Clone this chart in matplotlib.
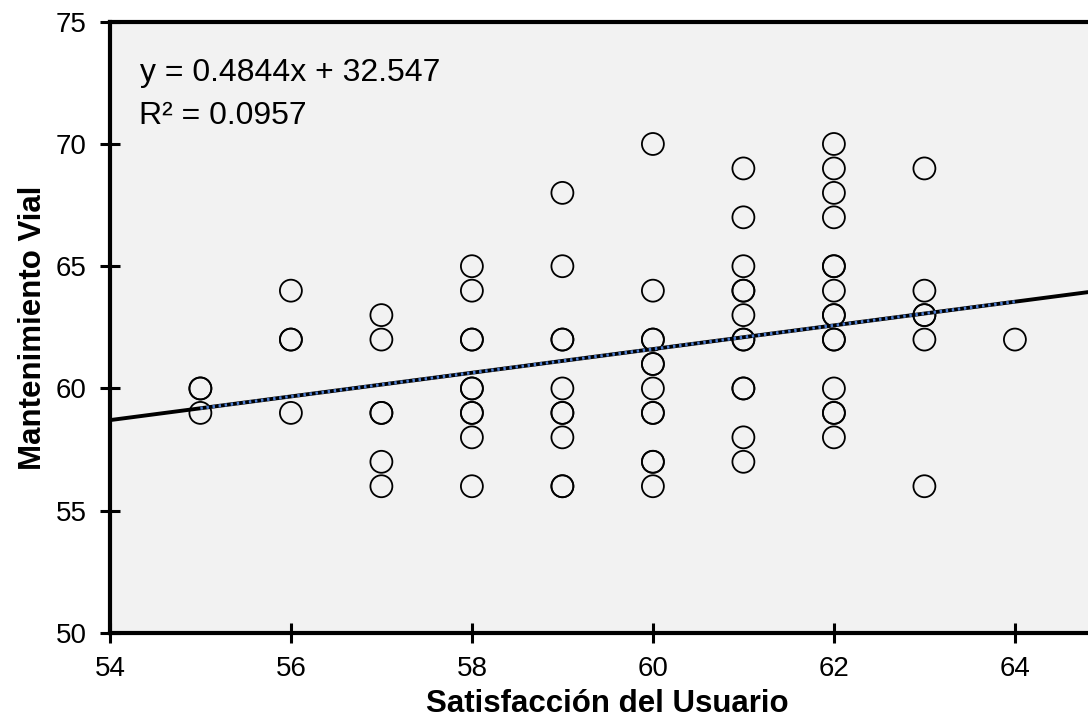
import numpy as np
import matplotlib.pyplot as plt

plt.rcParams['font.family'] = ['Liberation Sans', 'DejaVu Sans']

# Datos: satisfaccion (x) y mantenimiento vial (y), repetidos cuando se solapan
satisfaccion = ([55] * 3 + [56] * 4 + [57] * 6 + [58] * 10 + [59] * 10 + [60] * 12
                + [61] * 12 + [62] * 15 + [63] * 6 + [64] * 1)
mantenimiento = ([60, 60, 59] +
                 [64, 62, 62, 59] +
                 [63, 62, 59, 59, 57, 56] +
                 [65, 64, 62, 62, 60, 60, 59, 59, 58, 56] +
                 [68, 65, 62, 62, 60, 59, 59, 58, 56, 56] +
                 [70, 64, 62, 62, 61, 61, 60, 59, 59, 57, 57, 56] +
                 [69, 67, 65, 64, 64, 63, 62, 62, 60, 60, 58, 57] +
                 [70, 69, 68, 67, 65, 65, 64, 63, 63, 62, 62, 60, 59, 59, 58] +
                 [69, 64, 63, 63, 62, 56] +
                 [62])

pendiente = 0.4844
intercepto = 32.547
r2 = 0.0957

fig = plt.figure(figsize=(10.88, 7.25), dpi=100)
ax = fig.add_axes([0.101, 0.127, 0.915, 0.843])
ax.set_facecolor('#f2f2f2')

ax.scatter(satisfaccion, mantenimiento, s=250, facecolors='none',
           edgecolors='black', linewidths=1.3, zorder=3)

# linea de tendencia (pronostico hacia ambos lados) y tramo punteado azul
xt = np.array([54, 65])
ax.plot(xt, pendiente * xt + intercepto, color='black', lw=2.8, zorder=4)
xd = np.array([min(satisfaccion), max(satisfaccion)])
ax.plot(xd, pendiente * xd + intercepto, color='#4a7bd0', lw=2.2,
        linestyle=(0, (0.8, 1.2)), zorder=5)

ax.text(0.030, 0.9165, f'y = {pendiente}x + {intercepto}', transform=ax.transAxes,
        fontsize=23, va='center')
ax.text(0.029, 0.845, f'R² = {r2}', transform=ax.transAxes,
        fontsize=23, va='center')

ax.set_xlim(54, 65)
ax.set_ylim(50, 75)
ax.set_xticks(range(54, 65, 2))
ax.set_yticks(range(50, 76, 5))
ax.tick_params(direction='inout', length=15, width=2.2, labelsize=20, pad=9)

for s in ['left', 'bottom', 'top']:
    ax.spines[s].set_linewidth(3)
ax.spines['right'].set_visible(False)

ax.set_xlabel('Satisfacción del Usuario', fontsize=22.5, fontweight='bold', labelpad=5)
ax.set_ylabel('Mantenimiento Vial', fontsize=22.5, fontweight='bold', labelpad=6)

fig.savefig('out.png', dpi=100)
